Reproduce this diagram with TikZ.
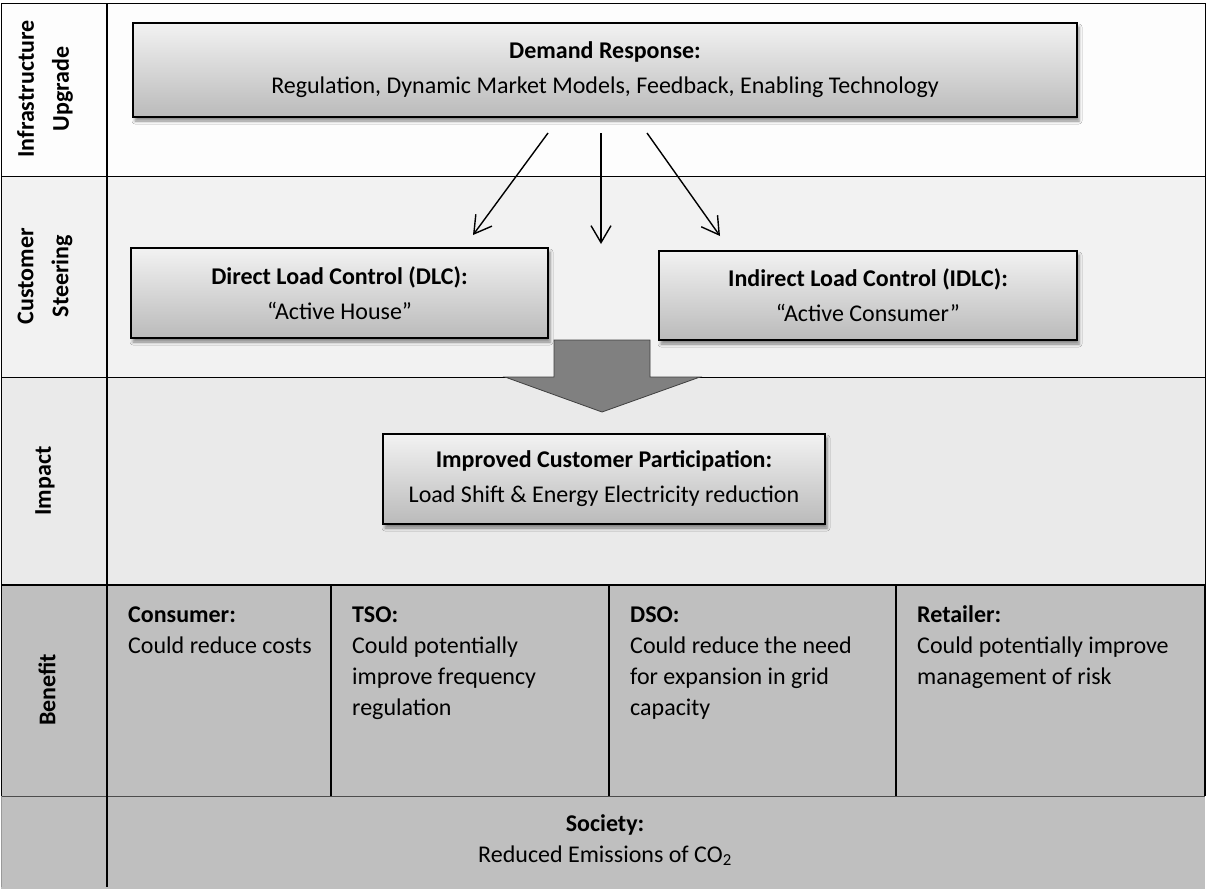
\documentclass[tikz,border=0pt]{standalone}
\usepackage{fontspec}
\setmainfont{Carlito}
\usepackage{tikz}
\usetikzlibrary{positioning,arrows,calc,fit,arrows.meta,shadows.blur}
\definecolor{rowone}{HTML}{FDFDFD}
\definecolor{rowtwo}{HTML}{F2F2F2}
\definecolor{rowthree}{HTML}{EAEAEA}
\definecolor{rowfour}{HTML}{BFBFBF}
\definecolor{bigarrow}{HTML}{808080}
\newcommand{\dfont}{\fontsize{24}{35}\selectfont}
\newcommand{\cfont}{\fontsize{24}{31}\selectfont}
\tikzset{
	diagram/.style={x=1pt,y=-1pt,>={Straight Barb[length=17pt,width=20pt]},
		line join=miter},
	box/.style={draw=black,line width=1.6pt,top color=gray!10,bottom color=gray!54,
		align=center,font=\dfont,inner sep=0pt,
		blur shadow={shadow xshift=2pt,shadow yshift=-4pt,shadow blur radius=3pt,shadow opacity=45}},
	rowlabel/.style={rotate=90,align=center,font=\dfont\bfseries},
	cell/.style={anchor=north west,align=left,inner sep=0pt,font=\cfont},
	thinarrow/.style={->,line width=1.4pt},
	rule/.style={line width=1pt},
	thickrule/.style={line width=1.8pt}
}

\begin{document}
\begin{tikzpicture}[diagram]
	\useasboundingbox (0,0) rectangle (1207,889);
	
	% row backgrounds
	\fill[rowone] (1,3) rectangle (1205,176);
	\fill[rowtwo] (1,176) rectangle (1205,377);
	\fill[rowthree] (1,377) rectangle (1205,585);
	\fill[rowfour] (1,585) rectangle (1205,889);
	
	% table rules
	\draw[rule] (1,796) -- (1,3) -- (1205,3) -- (1205,585);
	\draw[rule] (1,176) -- (1205,176);
	\draw[rule] (1,377) -- (1205,377);
	\draw[thickrule] (1,585) -- (1205,585);
	\draw[rule,black!70] (1,796) -- (1205,796);
	\draw[rule,black!40] (1,796) -- (1,887);
	\draw[thickrule] (107,3) -- (107,887);
	\draw[thickrule] (1205,585) -- (1205,796);
	\foreach \x in {331,609,896}
		\draw[thickrule] (\x,585) -- (\x,796);
	
	% row labels
	\node[rowlabel] (infra) at (45,89) {Infrastructure\\Upgrade};
	\node[rowlabel] (steer) at (45,276) {Customer\\Steering};
	\node[rowlabel] (impact) at (45,481) {Impact};
	\node[rowlabel] (benefit) at (47,690) {Benefit};
	
	% boxes
	\node[box,minimum width=944pt,minimum height=94pt] (dr) at (605,70)
		{\textbf{Demand Response:}\\Regulation, Dynamic Market Models, Feedback, Enabling Technology};
	\node[box,minimum width=417pt,minimum height=90pt] (dlc) at (339.5,293)
		{\textbf{Direct Load Control (DLC):}\\“Active House”};
	\node[box,minimum width=418pt,minimum height=89pt] (idlc) at (868,295.5)
		{\textbf{Indirect Load Control (IDLC):}\\“Active Consumer”};
	\node[box,minimum width=442pt,minimum height=90pt] (icp) at (604,479)
		{\textbf{Improved Customer Participation:}\\Load Shift \& Energy Electricity reduction};
	
	% arrows
	\coordinate (s1) at (548,133);
	\coordinate (s2) at (601,133);
	\coordinate (s3) at (647,133);
	\coordinate (e1) at (473,235);
	\coordinate (e2) at (601,244);
	\coordinate (e3) at (720,236);
	\draw[thinarrow] (s1) -- (e1);
	\draw[thinarrow] (s2) -- (e2);
	\draw[thinarrow] (s3) -- (e3);
	
	\draw[fill=bigarrow,draw=black!75,line width=0.8pt] (554,340) -- (650,340) -- (650,377)
		-- (700,377) -- (602,412) -- (505,377) -- (554,377) -- cycle;
	
	% benefit cells
	\node[cell] (consumer) at (128,601) {\strut\textbf{Consumer:}\\Could reduce costs};
	\node[cell] (tso) at (352,601) {\strut\textbf{TSO:}\\Could potentially\\improve frequency\\regulation};
	\node[cell] (dso) at (630,601) {\strut\textbf{DSO:}\\Could reduce the need\\for expansion in grid\\capacity};
	\node[cell] (retailer) at (917,601) {\strut\textbf{Retailer:}\\Could potentially improve\\management of risk};
	
	\node[align=center,font=\cfont,inner sep=0pt] (society) at (605,840)
		{\textbf{Society:}\\Reduced Emissions of CO\textsubscript{2}};
\end{tikzpicture}
\end{document}
